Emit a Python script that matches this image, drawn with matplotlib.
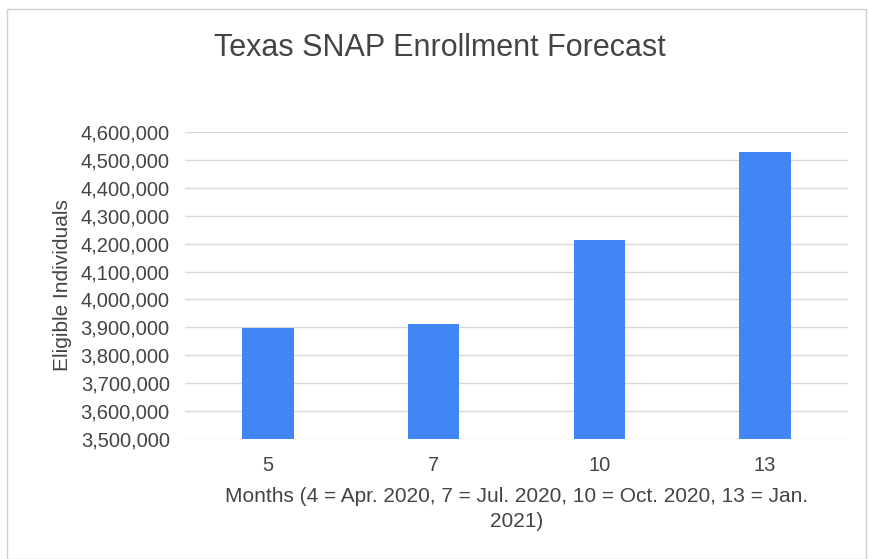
import matplotlib
matplotlib.use("Agg")
import matplotlib.pyplot as plt
from matplotlib.ticker import FuncFormatter, MultipleLocator
from matplotlib.patches import Rectangle

months = ["5", "7", "10", "13"]
enrollment = [3898000, 3911000, 4212000, 4527000]
title = "Texas SNAP Enrollment Forecast"
xlabel = "Months (4 = Apr. 2020, 7 = Jul. 2020, 10 = Oct. 2020, 13 = Jan.\n2021)"
ylabel = "Eligible Individuals"

plt.rcParams['font.family'] = ['Liberation Sans', 'DejaVu Sans']
text_color = "#444444"

fig = plt.figure(figsize=(8.69, 5.59), dpi=100)
fig.patch.set_facecolor("white")
fig.patches.append(Rectangle((7/869, 0), 859/869, 1 - 9/559, transform=fig.transFigure,
                             fill=False, edgecolor="#d0d0d0", linewidth=1.0))

ax = fig.add_axes([185/869, 1 - 439/559, 663/869, (439 - 132)/559])
x = range(len(months))
ax.bar(x, enrollment, width=0.31, color="#4285F4", zorder=3)
ax.set_xlim(-0.5, len(months) - 0.5)
ax.set_ylim(3500000, 4600000)
ax.yaxis.set_major_locator(MultipleLocator(100000))
ax.yaxis.set_major_formatter(FuncFormatter(lambda v, p: f"{int(round(v)):,}"))
ax.set_xticks(list(x))
ax.set_xticklabels(months)
ax.grid(axis="y", color="#d9d9d9", linewidth=1.0, zorder=0)
for s in ax.spines.values():
    s.set_visible(False)
ax.tick_params(axis="both", length=0, labelsize=14.5, colors=text_color)
ax.tick_params(axis="y", pad=11)
ax.tick_params(axis="x", pad=12)
ax.set_xlabel(xlabel, fontsize=15, color=text_color, labelpad=9, linespacing=1.4)
ax.set_ylabel(ylabel, fontsize=15, color=text_color, labelpad=6)
fig.text(440/869, 1 - 48/559, title, ha="center", va="center", fontsize=22, color=text_color)

fig.savefig("out.png", dpi=100)
